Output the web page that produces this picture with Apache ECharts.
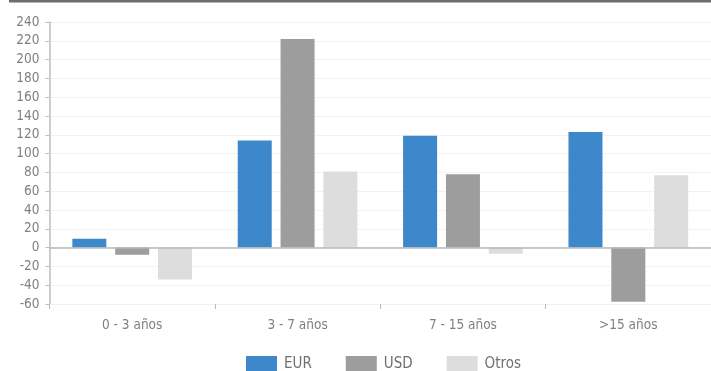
<!DOCTYPE html>
<html>
<head>
<meta charset="utf-8">
<script src="https://cdn.jsdelivr.net/npm/echarts@6/dist/echarts.min.js"></script>
<style>
  html, body { margin: 0; padding: 0; background: #ffffff; }
  #chart { width: 711px; height: 371px; }
</style>
</head>
<body>
<div id="chart"></div>
<script>
// Duration buckets and net positions per currency
var categories = ['0 - 3 años', '3 - 7 años', '7 - 15 años', '>15 años'];
var eurValues = [9.5, 114, 119, 123];
var usdValues = [-7.5, 222, 78, -57.5];
var otrosValues = [-34, 81, -6.5, 77];
var seriesNames = ['EUR', 'USD', 'Otros'];
var yTicks = { min: -60, max: 240, interval: 20 };

var FONT = "'Liberation Sans Narrow', 'DejaVu Sans Condensed', 'Roboto', sans-serif";
var LABEL_COLOR = '#808080';

var chart = echarts.init(document.getElementById('chart'), null, { renderer: 'canvas' });

function barSeries(name, data, color, withZeroLine) {
  var s = {
    name: name,
    type: 'bar',
    data: data,
    barWidth: 34,
    barGap: '26%',
    itemStyle: { color: color },
    emphasis: { disabled: true }
  };
  if (withZeroLine) {
    s.markLine = {
      silent: true,
      symbol: ['none', 'none'],
      label: { show: false },
      lineStyle: { color: '#b8b8b8', width: 1.5, type: 'solid' },
      data: [{ yAxis: 0 }]
    };
  }
  return s;
}

chart.setOption({
  animation: false,
  backgroundColor: '#ffffff',
  textStyle: { fontFamily: FONT },
  graphic: [{
    type: 'rect',
    shape: { x: 9, y: 0, width: 702, height: 2.5 },
    style: { fill: '#6e6e6e' },
    silent: true
  }],
  grid: { left: 49.5, right: -2, top: 22, bottom: 67, containLabel: false },
  legend: {
    data: seriesNames,
    top: 356,
    left: 246,
    padding: 0,
    itemWidth: 31,
    itemHeight: 16,
    itemGap: 34,
    icon: 'rect',
    textStyle: { color: '#6f6f6f', fontSize: 15, fontFamily: FONT, padding: [7, 0, 0, 2] }
  },
  xAxis: {
    type: 'category',
    data: categories,
    axisLine: { onZero: false, show: true, lineStyle: { color: '#f0f0f0' } },
    axisTick: { show: true, length: 5, lineStyle: { color: '#b8b8b8' } },
    axisLabel: { color: LABEL_COLOR, fontSize: 13.5, margin: 14, fontFamily: FONT },
    splitLine: { show: false }
  },
  yAxis: {
    type: 'value',
    min: yTicks.min,
    max: yTicks.max,
    interval: yTicks.interval,
    axisLine: { show: true, lineStyle: { color: '#bdbdbd', width: 1.5 } },
    axisTick: { show: true, length: 4, lineStyle: { color: '#bdbdbd' } },
    axisLabel: { color: LABEL_COLOR, fontSize: 13.5, margin: 10, fontFamily: FONT },
    splitLine: { show: true, lineStyle: { color: '#f2f2f2', width: 1 } }
  },
  series: [
    barSeries('EUR', eurValues, '#3d87cb', true),
    barSeries('USD', usdValues, '#9d9d9d', false),
    barSeries('Otros', otrosValues, '#dddddd', false)
  ]
});
</script>
</body>
</html>
